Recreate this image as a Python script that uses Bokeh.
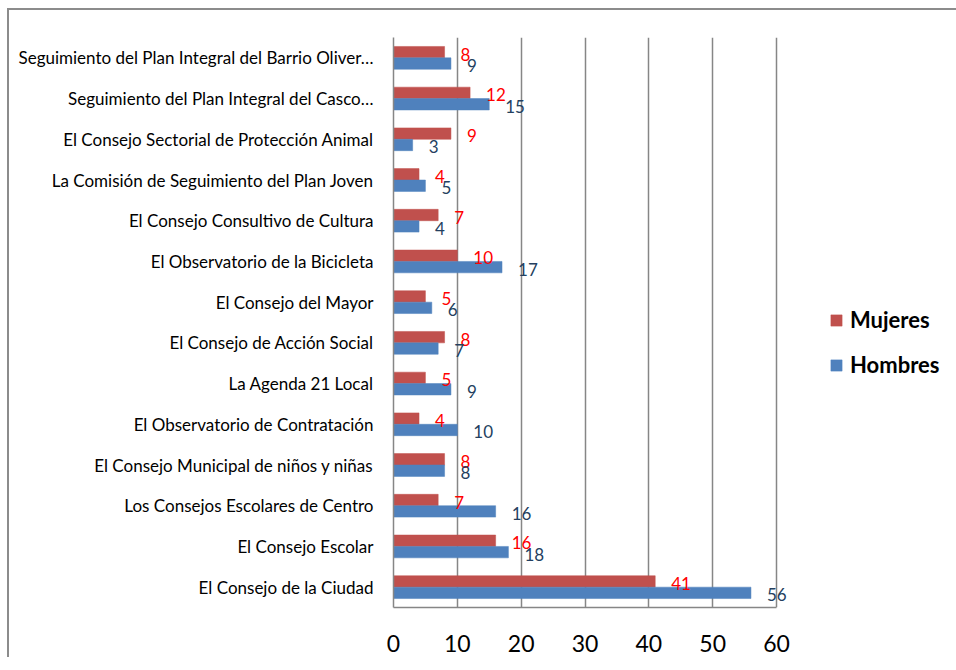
from bokeh.plotting import figure
from bokeh.models import ColumnDataSource, FactorRange, Legend, LegendItem, Range1d, FixedTicker
from bokeh.transform import dodge
from bokeh.core.properties import value
from bokeh.embed import file_html
from bokeh.resources import INLINE

categories = [
    "El Consejo de la Ciudad",
    "El Consejo Escolar",
    "Los Consejos Escolares de Centro",
    "El Consejo Municipal de niños y niñas",
    "El Observatorio de Contratación",
    "La Agenda 21 Local",
    "El Consejo de Acción Social",
    "El Consejo del Mayor",
    "El Observatorio de la Bicicleta",
    "El Consejo Consultivo de Cultura",
    "La Comisión de Seguimiento del Plan Joven",
    "El Consejo Sectorial de Protección Animal",
    "Seguimiento del Plan Integral del Casco…",
    "Seguimiento del Plan Integral del Barrio Oliver…",
]
mujeres = [41, 16, 7, 8, 4, 5, 8, 5, 10, 7, 4, 9, 12, 8]
hombres = [56, 18, 16, 8, 10, 9, 7, 6, 17, 4, 5, 3, 15, 9]
x_ticks = [0, 10, 20, 30, 40, 50, 60]

FONT = "Lato"
RED = "#C0504D"
BLUE = "#4F81BD"

src = ColumnDataSource(dict(
    cat=categories,
    muj=mujeres,
    hom=hombres,
    muj_s=[str(v) for v in mujeres],
    hom_s=[str(v) for v in hombres],
))

FRAME_W = 396
X_END = 60 * FRAME_W / 383.0

p = figure(
    width=945, height=659,
    y_range=FactorRange(factors=categories, range_padding=0),
    x_range=Range1d(0, X_END),
    output_backend="svg", toolbar_location=None,
    min_border_left=384, min_border_top=27, min_border_right=163, min_border_bottom=50,
    frame_width=FRAME_W, frame_height=570,
)
p.styles = {"border-top": "2px solid #8c8c8c", "border-left": "2px solid #8c8c8c",
            "margin-left": "7px", "margin-top": "8px"}

r_m = p.hbar(y=dodge("cat", 0.14, range=p.y_range), right="muj", left=0, height=0.28,
             source=src, fill_color=RED, line_color=RED, line_width=0.5)
r_h = p.hbar(y=dodge("cat", -0.14, range=p.y_range), right="hom", left=0, height=0.28,
             source=src, fill_color=BLUE, line_color=BLUE, line_width=0.5)

p.text(x="muj", y=dodge("cat", 0.14, range=p.y_range), text="muj_s", source=src,
       x_offset=16, y_offset=2, text_align="left", text_baseline="middle",
       text_font=value(FONT), text_font_size="17px", text_color="#FF0000")
p.text(x="hom", y=dodge("cat", -0.14, range=p.y_range), text="hom_s", source=src,
       x_offset=16, y_offset=2, text_align="left", text_baseline="middle",
       text_font=value(FONT), text_font_size="17px", text_color="#243F60")

p.xgrid.ticker = FixedTicker(ticks=x_ticks)
p.xgrid.grid_line_color = "#868686"
p.xgrid.grid_line_width = 1.5
p.ygrid.grid_line_color = None
p.outline_line_color = None
p.background_fill_color = "white"
p.border_fill_color = "white"

p.xaxis.ticker = FixedTicker(ticks=x_ticks)
p.xaxis.bounds = (0, 60)
p.xaxis.axis_line_color = "#868686"
p.xaxis.axis_line_width = 1.5
p.xaxis.major_tick_line_color = None
p.xaxis.minor_tick_line_color = None
p.xaxis.major_label_text_font = FONT
p.xaxis.major_label_text_font_size = "23px"
p.xaxis.major_label_text_color = "black"
p.xaxis.major_label_standoff = 21

p.yaxis.axis_line_color = "#868686"
p.yaxis.axis_line_width = 1.5
p.yaxis.major_tick_line_color = None
p.yaxis.minor_tick_line_color = None
p.yaxis.major_label_text_font = FONT
p.yaxis.major_label_text_font_size = "17px"
p.yaxis.major_label_text_color = "black"
p.yaxis.major_label_standoff = 14

legend = Legend(items=[LegendItem(label="Mujeres", renderers=[r_m]),
                       LegendItem(label="Hombres", renderers=[r_h])],
                location=(40, 229), orientation="vertical",
                glyph_width=14, glyph_height=14, label_standoff=7, spacing=18,
                padding=0, margin=0, border_line_color=None, background_fill_alpha=0,
                label_text_font=FONT, label_text_font_size="22px", label_text_font_style="bold",
                label_text_color="black", label_height=22)
p.add_layout(legend, "right")

open("out.html", "w").write(file_html(p, INLINE))
